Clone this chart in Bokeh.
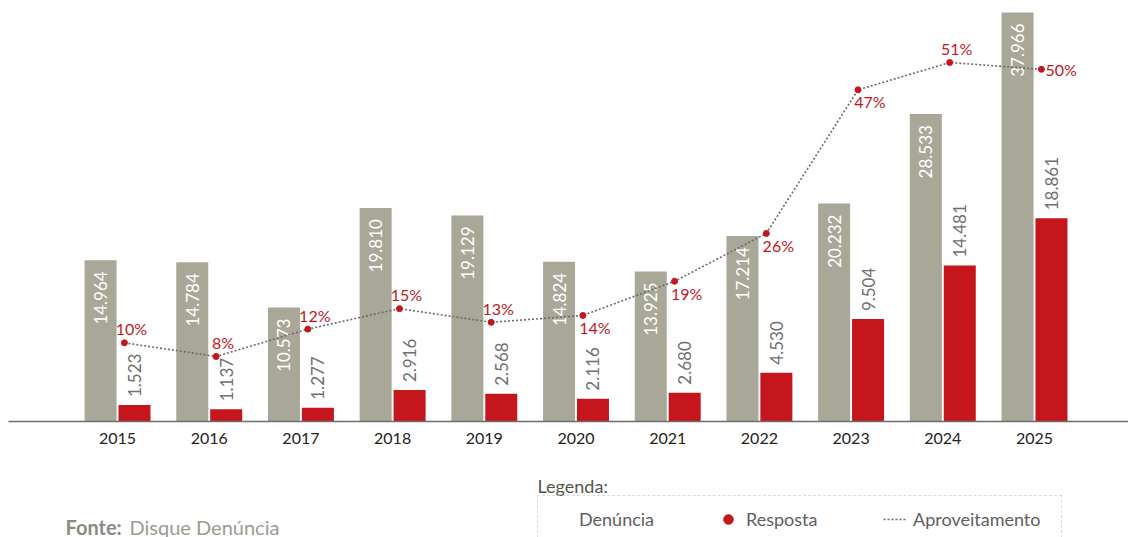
import math
from bokeh.plotting import figure
from bokeh.layouts import column
from bokeh.models import (ColumnDataSource, Range1d, Legend, LegendItem, Label, FixedTicker)
from bokeh.transform import dodge
from bokeh.core.properties import value
from bokeh.embed import file_html
from bokeh.resources import INLINE

# ---- data ----
years = ["2015", "2016", "2017", "2018", "2019", "2020", "2021", "2022", "2023", "2024", "2025"]
denuncia = [14964, 14784, 10573, 19810, 19129, 14824, 13925, 17214, 20232, 28533, 37966]
resposta = [1523, 1137, 1277, 2916, 2568, 2116, 2680, 4530, 9504, 14481, 18861]
aproveitamento = [10, 8, 12, 15, 13, 14, 19, 26, 47, 51, 50]
pct_place = ["above", "above", "above", "above", "above", "below", "below", "below", "below", "above", "right"]
legend_labels = ["Denúncia", "Resposta", "Aproveitamento"]
legend_title = "Legenda:"
source_bold = "Fonte:"
source_text = "Disque Denúncia"

FONT = "Lato"
GRAY = "#a8a798"
RED = "#c5161d"


def fmt(n):
    return f"{n:,}".replace(",", ".")


idx = list(range(len(years)))
src = ColumnDataSource(dict(
    x=idx, den=denuncia, res=resposta, pct=aproveitamento,
    den_lbl=[fmt(v) for v in denuncia], res_lbl=[fmt(v) for v in resposta],
))

H1 = 470
p = figure(width=1128, height=H1, x_range=Range1d(-1.189, 11.025), y_range=Range1d(0, 39080),
           output_backend="svg", toolbar_location=None,
           min_border_left=8, min_border_right=0, min_border_top=0, min_border_bottom=H1 - 421)
p.extra_y_ranges = {"pct": Range1d(-1.51, 60.07)}
p.yaxis.visible = False
p.xgrid.visible = False
p.ygrid.visible = False
p.outline_line_color = None

BW = 0.349
OFF = 0.185
p.vbar(x=dodge("x", -OFF, range=p.x_range), top="den", width=BW, source=src,
       fill_color=GRAY, line_color=None)
p.vbar(x=dodge("x", OFF, range=p.x_range), top="res", width=BW, source=src,
       fill_color=RED, line_color=None)

p.text(x=dodge("x", -OFF, range=p.x_range), y="den", text="den_lbl", source=src,
       angle=math.pi / 2, text_align="right", text_baseline="middle", y_offset=11,
       text_color="white", text_font_size="17px", text_font=value(FONT))
p.text(x=dodge("x", OFF, range=p.x_range), y="res", text="res_lbl", source=src,
       angle=math.pi / 2, text_align="left", text_baseline="middle", y_offset=-8,
       text_color="#707070", text_font_size="17px", text_font=value(FONT))

PX = 0.075
p.line(x=dodge("x", PX, range=p.x_range), y="pct", source=src, y_range_name="pct",
       line_color="#6b6b6b", line_width=1.6, line_dash="2 2")
p.scatter(x=dodge("x", PX, range=p.x_range), y="pct", source=src, y_range_name="pct",
          size=6, fill_color=RED, line_color=RED)

place_style = {
    "above": dict(x_offset=7, y_offset=-14, text_align="center"),
    "below": dict(x_offset=12, y_offset=12, text_align="center"),
    "right": dict(x_offset=4, y_offset=0, text_align="left"),
}
for key, st in place_style.items():
    sel = [i for i, pl in enumerate(pct_place) if pl == key]
    s = ColumnDataSource(dict(x=[idx[i] for i in sel], pct=[aproveitamento[i] for i in sel],
                              lbl=[f"{aproveitamento[i]}%" for i in sel]))
    p.text(x=dodge("x", PX, range=p.x_range), y="pct", text="lbl", source=s, y_range_name="pct",
           text_baseline="middle", text_color=RED, text_font_size="16px",
           text_font=value(FONT), **st)

# x axis
p.xaxis.ticker = FixedTicker(ticks=idx)
p.xaxis.major_label_overrides = {i: y for i, y in zip(idx, years)}
p.xaxis.axis_line_color = "#6e6e6e"
p.xaxis.axis_line_width = 1.5
p.xaxis.major_tick_line_color = None
p.xaxis.minor_tick_line_color = None
p.xaxis.major_label_standoff = 5
p.xaxis.major_label_text_font = FONT
p.xaxis.major_label_text_font_size = "16px"
p.xaxis.major_label_text_color = "#222222"

# ---- bottom strip: legend + source ----
H2 = 537 - H1
p2 = figure(width=1128, height=H2, x_range=Range1d(0, 1128), y_range=Range1d(0, H2),
            output_backend="svg", toolbar_location=None,
            min_border_left=0, min_border_right=0, min_border_top=0, min_border_bottom=0)
p2.xaxis.visible = False
p2.yaxis.visible = False
p2.xgrid.visible = False
p2.ygrid.visible = False
p2.outline_line_color = None

# legend-only renderers, kept outside the visible strip
r_den = p2.scatter(x=[-50], y=[-50], size=1, fill_alpha=0, line_alpha=0)
r_res = p2.scatter(x=[-50], y=[-50], size=10, fill_color=RED, line_color=RED)
r_apr = p2.line(x=[-60, -50], y=[-50, -50], line_color="#6b6b6b", line_width=1.4, line_dash="2 2")
legend = Legend(items=[
    LegendItem(label=legend_labels[0], renderers=[r_den]),
    LegendItem(label=legend_labels[1], renderers=[r_res]),
    LegendItem(label=legend_labels[2], renderers=[r_apr]),
], orientation="horizontal", location=(529, -6), margin=0, padding=11,
    spacing=0, glyph_width=24, glyph_height=24, label_height=20, label_width=137,
    label_standoff=6,
    label_text_font=FONT, label_text_font_size="18px", label_text_color="#606060",
    border_line_color="#bbbbbb", border_line_dash="1 2", border_line_width=1,
    background_fill_alpha=0)
p2.add_layout(legend, "center")

p2.add_layout(Label(x=529, y=537 - 485, x_units="screen", y_units="screen", text=legend_title,
                    text_font=FONT, text_font_size="18px", text_color="#55554f",
                    text_baseline="middle"))
p2.add_layout(Label(x=57, y=11, x_units="screen", y_units="screen", text=source_bold,
                    text_font=FONT, text_font_size="20px", text_color="#8c8b7f",
                    text_font_style="bold", text_baseline="middle"))
p2.add_layout(Label(x=121, y=11, x_units="screen", y_units="screen", text=source_text,
                    text_font=FONT, text_font_size="20px", text_color="#9c9b90",
                    text_baseline="middle"))

layout = column(p, p2, spacing=0)
open("out.html", "w").write(file_html(layout, INLINE))
